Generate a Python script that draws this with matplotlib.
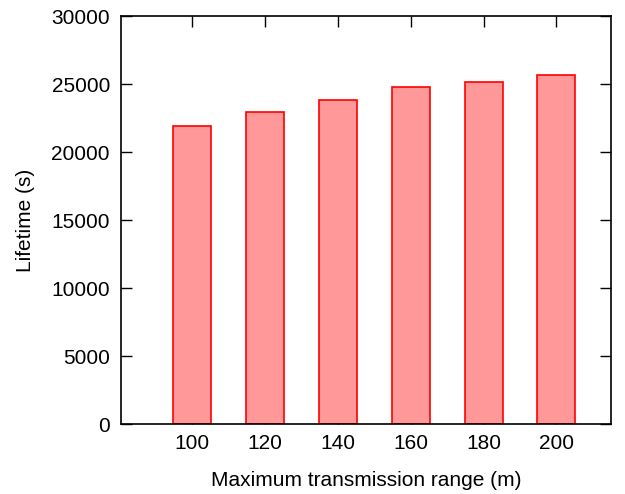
import matplotlib
matplotlib.use("Agg")
import matplotlib.pyplot as plt

categories = ["100", "120", "140", "160", "180", "200"]
lifetime = [21930, 22960, 23830, 24750, 25120, 25660]

plt.rcParams['font.family'] = ['Liberation Sans', 'DejaVu Sans']
fig = plt.figure(figsize=(6.25, 4.94), dpi=100)
ax = fig.add_axes([121/625, 1-424/494, (611-121)/625, (424-16)/494])

x = list(range(len(categories)))
ax.bar(x, lifetime, width=0.52, color='#ff9999', edgecolor='#ff0000', linewidth=1.2, zorder=3)
ax.set_xlim(-0.98, 5.75)
ax.set_ylim(0, 30000)
ax.set_xticks(x)
ax.set_xticklabels(categories)
ax.set_yticks(range(0, 30001, 5000))
ax.tick_params(direction='in', top=True, right=True, length=8, width=1, labelsize=15, pad=8)
ax.tick_params(axis='x', pad=7)
for s in ax.spines.values():
    s.set_linewidth(1.2)
    s.set_zorder(4)
ax.set_xlabel("Maximum transmission range (m)", fontsize=15, labelpad=13)
ax.set_ylabel("Lifetime (s)", fontsize=15, labelpad=12)
fig.savefig("out.png", dpi=100)
